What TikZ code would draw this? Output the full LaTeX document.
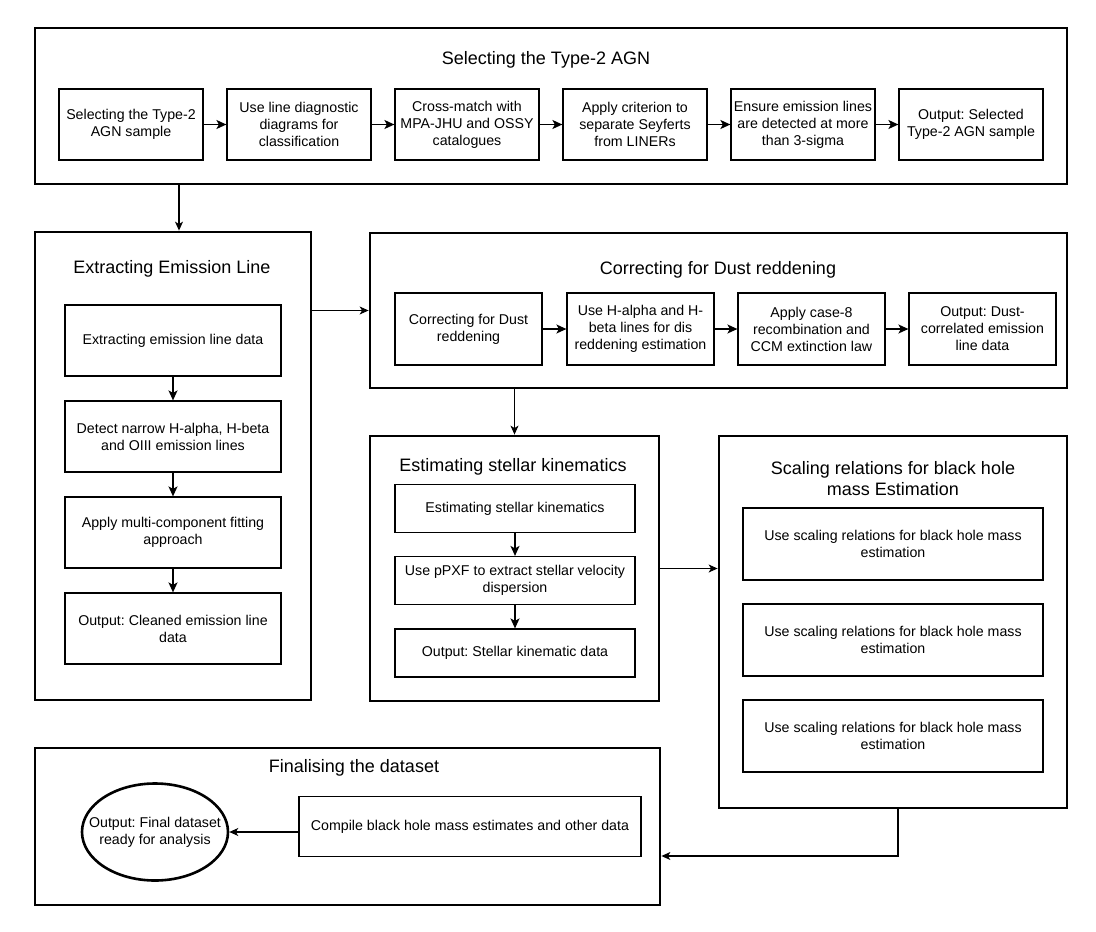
\documentclass[tikz,border=0pt]{standalone}
\usepackage{fontspec}
\setmainfont{Liberation Sans}
\usetikzlibrary{arrows.meta,shapes.geometric}
\frenchspacing
\begin{document}
\begin{tikzpicture}[x=1pt,y=-1pt,
  outer/.style={draw, line width=2.8pt, rectangle, inner sep=0pt},
  box/.style={draw, line width=1.2pt, rectangle, align=center, inner sep=0pt, font=\fontsize{14.2}{17}\selectfont},
  txt/.style={align=center, inner sep=0pt, font=\fontsize{14.2}{17}\selectfont},
  ttl/.style={font=\fontsize{18}{21}\selectfont, align=center, inner sep=0pt},
  arr/.style={line width=1.5pt, -{Stealth[length=10pt,width=9pt,inset=2.5pt]}},
  lnk/.style={line width=1.1pt, -{Stealth[length=9pt,width=8pt,inset=2.5pt]}}]
\useasboundingbox (0,0) rectangle (1096,932);

% ---- Selecting the Type-2 AGN
\node[outer, minimum width=1032, minimum height=156] (top) at (551,106) {};
\node[ttl] (toptitle) at (546,60) {Selecting the Type-2 AGN};
\node[box, minimum width=144, minimum height=71] (t1) at (131,124.5) {Selecting the Type-2\\AGN sample};
\node[box, minimum width=144, minimum height=71] (t2) at (299,124.5) {Use line diagnostic\\diagrams for\\classification};
\node[box, minimum width=144, minimum height=71] (t3) at (467,124.5) {Cross-match with\\MPA-JHU and OSSY\\catalogues};
\node[box, minimum width=144, minimum height=71] (t4) at (635,124.5) {Apply criterion to\\separate Seyferts\\from LINERs};
\node[box, minimum width=144, minimum height=71] (t5) at (803,124.5) {Ensure emission lines\\are detected at more\\than 3-sigma};
\node[box, minimum width=144, minimum height=71] (t6) at (971,124.5) {Output: Selected\\Type-2 AGN sample};
\foreach \a/\b in {t1/t2,t2/t3,t3/t4,t4/t5,t5/t6} \draw[arr] (\a) -- (\b);

% ---- Extracting Emission Line
\node[outer, minimum width=276, minimum height=468] (ext) at (173,466) {};
\node[ttl] (exttitle) at (172,269) {Extracting Emission Line};
\node[box, minimum width=216, minimum height=71] (e1) at (173,340.5) {Extracting emission line data};
\node[box, minimum width=216, minimum height=71] (e2) at (173,436.5) {Detect narrow H-alpha, H-beta\\and OIII emission lines};
\node[box, minimum width=216, minimum height=71] (e3) at (173,532.5) {Apply multi-component fitting\\approach};
\node[box, minimum width=216, minimum height=71] (e4) at (173,628.5) {Output: Cleaned emission line\\data};
\foreach \a/\b in {e1/e2,e2/e3,e3/e4} \draw[arr] (\a) -- (\b);

% ---- Correcting for Dust reddening
\node[outer, minimum width=697, minimum height=155] (dust) at (718.5,310.5) {};
\node[ttl] (dusttitle) at (718,270) {Correcting for Dust reddening};
\node[box, minimum width=147, minimum height=72] (d1) at (468.5,329) {Correcting for Dust\\reddening};
\node[box, minimum width=147, minimum height=72] (d2) at (640.5,329) {Use H-alpha and H-\\beta lines for dis\\reddening estimation};
\node[box, minimum width=147, minimum height=72] (d3) at (811.5,329) {Apply case-8\\recombination and\\CCM extinction law};
\node[box, minimum width=147, minimum height=72] (d4) at (982.5,329) {Output: Dust-\\correlated emission\\line data};
\foreach \a/\b in {d1/d2,d2/d3,d3/d4} \draw[arr] (\a) -- (\b);

% ---- Estimating stellar kinematics
\node[outer, minimum width=289, minimum height=265] (stel) at (514.5,568.5) {};
\node[ttl] (steltitle) at (513,467) {Estimating stellar kinematics};
\node[box, minimum width=240, minimum height=48] (s1) at (515,508.5) {Estimating stellar kinematics};
\node[box, minimum width=240, minimum height=48] (s2) at (515,580.5) {Use pPXF to extract stellar velocity\\dispersion};
\node[box, minimum width=240, minimum height=48] (s3) at (515,653) {Output: Stellar kinematic data};
\foreach \a/\b in {s1/s2,s2/s3} \draw[arr] (\a) -- (\b);

% ---- Scaling relations
\node[outer, minimum width=348, minimum height=372] (scal) at (893,622) {};
\node[ttl] (scaltitle) at (893,478.5) {Scaling relations for black hole\\mass Estimation};
\node[box, minimum width=300, minimum height=72] (r1) at (893,544) {Use scaling relations for black hole mass\\estimation};
\node[box, minimum width=300, minimum height=72] (r2) at (893,640) {Use scaling relations for black hole mass\\estimation};
\node[box, minimum width=300, minimum height=72] (r3) at (893,736) {Use scaling relations for black hole mass\\estimation};

% ---- Finalising the dataset
\node[outer, minimum width=625, minimum height=157] (fin) at (347.5,826.5) {};
\node[ttl] (fintitle) at (354,768) {Finalising the dataset};
\node[box, minimum width=342, minimum height=60] (comp) at (470,826.5) {Compile black hole mass estimates and other data};
\node[draw, ellipse, line width=2.6pt, minimum width=146, minimum height=97, inner sep=0pt] (ell) at (155,832) {};
\node[txt] (elltext) at (ell.center) {Output: Final dataset\\ready for analysis};
\draw[lnk] (comp.west |- ell.east) -- (ell.east);

% ---- connectors between stages
\coordinate (a1) at (179,0);
\draw[lnk] (top.south -| a1) -- (ext.north -| a1);
\draw[lnk] (ext.east |- dust.west) -- (dust.west);
\draw[lnk] (dust.south -| stel.north) -- (stel.north);
\draw[lnk] (stel.east) -- (stel.east -| scal.west);
\coordinate (b1) at (898,856);
\draw[lnk] (scal.south -| b1) -- (b1) -- (fin.east |- b1);
\end{tikzpicture}
\end{document}
